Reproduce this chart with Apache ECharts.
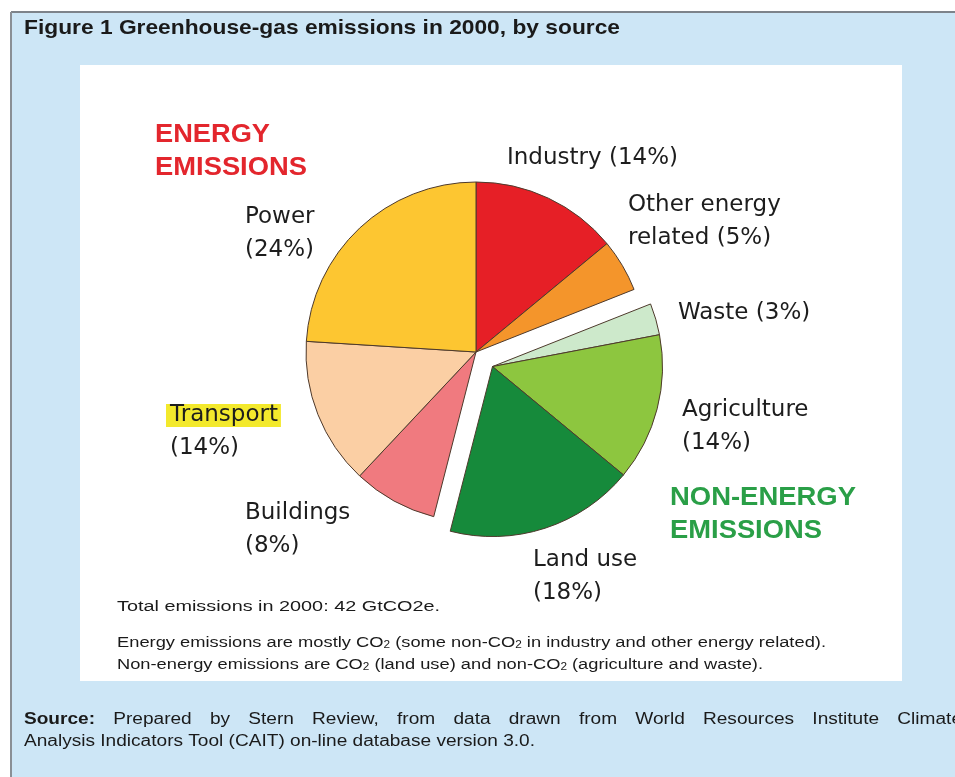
<!DOCTYPE html>
<html>
<head>
<meta charset="utf-8">
<script src="https://cdn.jsdelivr.net/npm/echarts@6/dist/echarts.min.js"></script>
<style>
  html, body { margin: 0; padding: 0; background: #ffffff; }
  #chart { width: 955px; height: 777px; }
</style>
</head>
<body>
<div id="chart"></div>
<script>
// Emission sources, clockwise from twelve o'clock, and their share of the 2000 total (%)
const sources = ['Industry', 'Other energy related', 'Waste', 'Agriculture', 'Land use', 'Buildings', 'Transport', 'Power'];
const shares = [14, 5, 3, 14, 18, 8, 14, 24];
const energySources = ['Industry', 'Other energy related', 'Buildings', 'Transport', 'Power'];
const nonEnergySources = ['Waste', 'Agriculture', 'Land use'];

const titleText = 'Figure 1 Greenhouse-gas emissions in 2000, by source';
const totalNote = 'Total emissions in 2000: 42 GtCO2e.';
const sourceLine1 = ['Prepared', 'by', 'Stern', 'Review,', 'from', 'data', 'drawn', 'from', 'World', 'Resources', 'Institute', 'Climate'];
const sourceLine2 = 'Analysis Indicators Tool (CAIT) on-line database version 3.0.';

// ---- styling ----
const sliceColors = {
  'Industry': '#e61f26',
  'Other energy related': '#f4952b',
  'Waste': '#cde9cb',
  'Agriculture': '#8dc63f',
  'Land use': '#168a3b',
  'Buildings': '#f07a7f',
  'Transport': '#fbcfa4',
  'Power': '#fdc631'
};
// top-left corner of each slice label
const labelSpots = {
  'Industry': [507, 142],
  'Other energy related': [628, 189],
  'Waste': [678, 297],
  'Agriculture': [682, 394],
  'Land use': [533, 544],
  'Buildings': [245, 497],
  'Transport': [166, 399],
  'Power': [245, 201]
};
const labelWraps = { 'Other energy related': 'Other energy\nrelated' };
const oneLineLabels = ['Industry', 'Other energy related', 'Waste'];

const pieCenter = [476, 352];
const pieRadius = 170;
const explode = 22;

const blue = '#cde6f6';
const SANS = '"Liberation Sans", Arial, sans-serif';

// text measurement, used to stretch the annotation text to its set width
const mctx = document.createElement('canvas').getContext('2d');
function measure(str, font) { mctx.font = font; return mctx.measureText(str).width; }
function fitScale(str, font, width) { return width / measure(str, font); }

// centre of the pulled-out non-energy wedge group, along its mid angle
function explodedCenter() {
  let before = 0, inGroup = 0;
  let started = false;
  sources.forEach((s, i) => {
    if (nonEnergySources.includes(s)) { inGroup += shares[i]; started = true; }
    else if (!started) { before += shares[i]; }
  });
  const total = shares.reduce((a, b) => a + b, 0);
  const mid = (before + inGroup / 2) / total * 2 * Math.PI;
  return [pieCenter[0] + explode * Math.sin(mid), pieCenter[1] - explode * Math.cos(mid)];
}

function labelText(name, value) {
  const shown = labelWraps[name] || name;
  const sep = oneLineLabels.includes(name) ? ' ' : '\n';
  if (name === 'Transport') return '{hl|' + shown + '}' + sep + '{pad|(' + value + '%)}';
  return shown + sep + '(' + value + '%)';
}

function pieSeries(group, center) {
  return {
    type: 'pie',
    radius: pieRadius,
    center: center,
    startAngle: 90,
    clockwise: true,
    silent: true,
    animation: false,
    avoidLabelOverlap: false,
    z: 3,
    labelLine: { show: false },
    itemStyle: { borderColor: '#4e3a2c', borderWidth: 1 },
    label: {
      position: 'outside',
      fontFamily: '"DejaVu Sans", sans-serif',
      fontSize: 23,
      lineHeight: 33,
      color: '#1d1d1d',
      formatter: p => labelText(p.name, p.value),
      rich: {
        hl: { backgroundColor: '#f3e92c', padding: [0, 3, 0, 4], lineHeight: 33 },
        pad: { padding: [0, 0, 0, 4], lineHeight: 33 }
      }
    },
    labelLayout: p => {
      const spot = labelSpots[sources[p.dataIndex]];
      return { x: spot[0], y: spot[1], align: 'left', verticalAlign: 'top' };
    },
    data: sources.map((name, i) => {
      const mine = group.includes(name);
      return {
        name: name,
        value: shares[i],
        itemStyle: mine ? { color: sliceColors[name] } : { color: 'rgba(0,0,0,0)', borderWidth: 0 },
        label: { show: mine }
      };
    })
  };
}

// plain annotation text, stretched horizontally to a width
function stretchedText(str, x, y, font, width, fill, z) {
  return {
    type: 'text', x: x, y: y, z: z || 10,
    scaleX: fitScale(str, font, width),
    style: { text: str, font: font, fill: fill, align: 'left', verticalAlign: 'middle' }
  };
}

// annotation line with CO2 subscripts
function chemLine(parts, x, y, size, width) {
  const font = size + 'px ' + SANS;
  const subSize = Math.round(size * 0.62);
  const subFont = subSize + 'px ' + SANS;
  let w = 0, text = '';
  parts.forEach(p => {
    if (p.sub) { w += measure(p.t, subFont); text += '{s|' + p.t + '}'; }
    else { w += measure(p.t, font); text += '{n|' + p.t + '}'; }
  });
  return {
    type: 'text', x: x, y: y, z: 10,
    scaleX: width / w,
    style: {
      text: text, fill: '#1a1a1a', align: 'left', verticalAlign: 'middle',
      rich: {
        n: { fontSize: size, fontFamily: SANS, lineHeight: size + 3, verticalAlign: 'bottom', fill: '#1a1a1a' },
        s: { fontSize: subSize, fontFamily: SANS, lineHeight: subSize, verticalAlign: 'bottom', fill: '#1a1a1a' }
      }
    }
  };
}

// source line 1: justified word by word across the frame
function justifiedLine(words, left, right, y, font, sx, boldLead, boldFont) {
  const els = [];
  const leadW = measure(boldLead, boldFont) * sx;
  const widths = words.map(w => measure(w, font) * sx);
  const span = right - left;
  const used = leadW + widths.reduce((a, b) => a + b, 0);
  const gap = (span - used) / words.length;
  els.push({ type: 'text', x: left, y: y, z: 10, scaleX: sx,
    style: { text: boldLead, font: boldFont, fill: '#1a1a1a', align: 'left', verticalAlign: 'middle' } });
  let cx = left + leadW + gap;
  words.forEach((w, i) => {
    els.push({ type: 'text', x: cx, y: y, z: 10, scaleX: sx,
      style: { text: w, font: font, fill: '#1a1a1a', align: 'left', verticalAlign: 'middle' } });
    cx += widths[i] + gap;
  });
  return els;
}

const chart = echarts.init(document.getElementById('chart'), null, { renderer: 'canvas' });

const srcFont = '16px ' + SANS;
const srcScale = fitScale(sourceLine2, srcFont, 511);

const graphics = [
  // light-blue frame with grey top and left rules
  { type: 'rect', z: 0, shape: { x: 11, y: 12, width: 944, height: 765 }, style: { fill: blue } },
  { type: 'line', z: 1, shape: { x1: 11, y1: 12, x2: 955, y2: 12 }, style: { stroke: '#7d838a', lineWidth: 2 } },
  { type: 'line', z: 1, shape: { x1: 11, y1: 12, x2: 11, y2: 777 }, style: { stroke: '#8a8f95', lineWidth: 2 } },
  // white chart panel
  { type: 'rect', z: 1, shape: { x: 80, y: 65, width: 822, height: 616 }, style: { fill: '#ffffff' } },
  // figure title
  stretchedText(titleText, 24, 28, 'bold 21px ' + SANS, 596, '#1a1a1a'),
  // group headings
  stretchedText('ENERGY', 155, 135, 'bold 25px ' + SANS, 115, '#e3262d'),
  stretchedText('EMISSIONS', 155, 168, 'bold 25px ' + SANS, 152, '#e3262d'),
  stretchedText('NON-ENERGY', 670, 498, 'bold 25px ' + SANS, 186, '#2a9f47'),
  stretchedText('EMISSIONS', 670, 531, 'bold 25px ' + SANS, 152, '#2a9f47'),
  // notes under the pie
  stretchedText(totalNote, 117, 607, '15.5px ' + SANS, 323, '#1a1a1a'),
  chemLine([
    { t: 'Energy emissions are mostly CO' }, { t: '2', sub: true },
    { t: ' (some non-CO' }, { t: '2', sub: true },
    { t: ' in industry and other energy related).' }
  ], 117, 641, 15.5, 709),
  chemLine([
    { t: 'Non-energy emissions are CO' }, { t: '2', sub: true },
    { t: ' (land use) and non-CO' }, { t: '2', sub: true },
    { t: ' (agriculture and waste).' }
  ], 117, 663, 15.5, 646),
  // source credit
  ...justifiedLine(sourceLine1, 24, 962, 720, srcFont, srcScale, 'Source:', 'bold 16px ' + SANS),
  stretchedText(sourceLine2, 24, 742, srcFont, 511, '#1a1a1a')
];

chart.setOption({
  backgroundColor: '#ffffff',
  animation: false,
  graphic: { elements: graphics },
  series: [
    pieSeries(energySources, pieCenter),
    pieSeries(nonEnergySources, explodedCenter())
  ]
});
</script>
</body>
</html>
